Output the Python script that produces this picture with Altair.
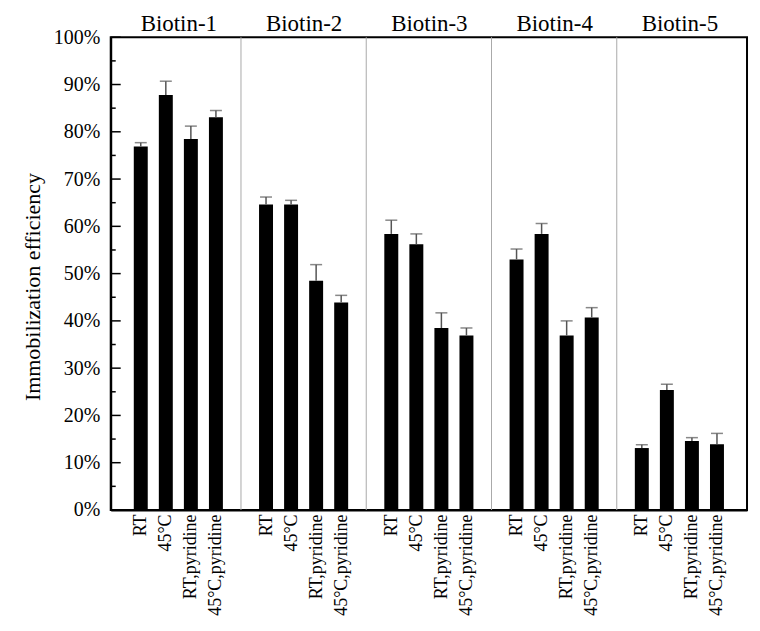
import json
import altair as alt
import pandas as pd

# ---- data ----
groups = ["Biotin-1", "Biotin-2", "Biotin-3", "Biotin-4", "Biotin-5"]
conditions = ["RT", "45°C", "RT,pyridine", "45°C,pyridine"]
# mean immobilization efficiency (%) per group, per condition
means = [
    [76.9, 87.8, 78.5, 83.1],
    [64.6, 64.6, 48.5, 43.9],
    [58.4, 56.2, 38.5, 36.9],
    [53.0, 58.4, 36.9, 40.7],
    [13.1, 25.4, 14.6, 13.9],
]
# upper error bar length (%)
errors = [
    [0.8, 2.9, 2.7, 1.4],
    [1.6, 0.9, 3.4, 1.5],
    [2.9, 2.2, 3.2, 1.6],
    [2.2, 2.2, 3.1, 2.1],
    [0.7, 1.2, 0.7, 2.3],
]
major_ticks = [0, 10, 20, 30, 40, 50, 60, 70, 80, 90, 100]
minor_ticks = [5, 15, 25, 35, 45, 55, 65, 75, 85, 95]

FONT = "'Liberation Serif', 'Times New Roman', serif"
slot = len(conditions) + 1  # slots per group (incl. gap)

rows = []
for g, name in enumerate(groups):
    for i, cond in enumerate(conditions):
        rows.append({
            "group": name,
            "condition": cond,
            "pos": g * slot + i + 1,
            "value": means[g][i] / 100,
            "upper": (means[g][i] + errors[g][i]) / 100,
        })
df = pd.DataFrame(rows)

centers = [g * slot + slot / 2 for g in range(len(groups))]
grp_df = pd.DataFrame({"group": groups, "center": centers})
sep_df = pd.DataFrame({"sep": [g * slot for g in range(1, len(groups))]})
major_df = pd.DataFrame({"t": [v / 100 for v in major_ticks]})
minor_df = pd.DataFrame({"t": [v / 100 for v in minor_ticks]})

W, H = 638, 474
x_scale = alt.Scale(domain=[0, len(groups) * slot], nice=False, zero=False)
y_scale = alt.Scale(domain=[0, 1], nice=False)

label_list = json.dumps([""] + conditions, ensure_ascii=False)
label_expr = f"{label_list}[datum.value % {slot}]"
x_values = [int(p) for p in df["pos"]]

group_list = json.dumps(groups, ensure_ascii=False)
group_expr = f"{group_list}[floor(datum.value / {slot})]"

x_axis = alt.Axis(
    values=x_values,
    labelExpr=label_expr,
    labelAngle=-90,
    labelFont=FONT,
    labelFontSize=18,
    labelColor="black",
    labelPadding=4,
    ticks=False,
    tickSize=0,
    grid=False,
    domainColor="black",
    domainWidth=2,
    title=None,
    labelOverlap=False,
)
top_axis = alt.Axis(
    orient="top",
    values=centers,
    labelExpr=group_expr,
    labelFont=FONT,
    labelFontSize=23,
    labelColor="black",
    labelBaseline="alphabetic",
    labelPadding=6.5,
    ticks=False,
    tickSize=0,
    grid=False,
    domain=False,
    title=None,
    labelOverlap=False,
)
y_axis = alt.Axis(
    values=[v / 100 for v in major_ticks],
    format=".0%",
    labelFont=FONT,
    labelFontSize=20,
    labelColor="black",
    labelPadding=11,
    ticks=False,
    tickSize=0,
    grid=False,
    domainColor="black",
    domainWidth=2,
    title="Immobilization efficiency",
    titleFont=FONT,
    titleFontSize=22,
    titleFontWeight="normal",
    titleColor="black",
    titleAngle=-90,
    titleBaseline="alphabetic",
    titleAlign="center",
    titleX=-71,
    titleY=250,
)

seps = alt.Chart(sep_df).mark_rule(color="#aaaaaa", strokeWidth=1).encode(
    x=alt.X("sep:Q", scale=x_scale, axis=None),
    y=alt.value(0),
    y2=alt.value(H),
)

bars = alt.Chart(df).mark_bar(size=14, color="black").encode(
    x=alt.X("pos:Q", scale=x_scale, axis=x_axis),
    y=alt.Y("value:Q", scale=y_scale, axis=y_axis),
)

err = alt.Chart(df).mark_rule(color="#555555", strokeWidth=1.5).encode(
    x=alt.X("pos:Q", scale=x_scale, axis=None),
    y=alt.Y("value:Q", scale=y_scale, axis=y_axis),
    y2="upper:Q",
)

caps = alt.Chart(df).mark_tick(
    orient="horizontal", size=12, thickness=1.5, color="#555555"
).encode(
    x=alt.X("pos:Q", scale=x_scale, axis=None),
    y=alt.Y("upper:Q", scale=y_scale, axis=y_axis),
)

maj = alt.Chart(major_df).mark_rule(color="black", strokeWidth=1.5).encode(
    y=alt.Y("t:Q", scale=y_scale, axis=y_axis),
    x=alt.value(0),
    x2=alt.value(10),
)
mino = alt.Chart(minor_df).mark_rule(color="black", strokeWidth=1.5).encode(
    y=alt.Y("t:Q", scale=y_scale, axis=y_axis),
    x=alt.value(0),
    x2=alt.value(5),
)

# group titles drawn as the labels of a top axis (invisible point marks)
titles = alt.Chart(grp_df).mark_point(opacity=0).encode(
    x=alt.X("center:Q", scale=x_scale, axis=top_axis),
    y=alt.value(0),
)

chart = alt.layer(seps, bars, err, caps, maj, mino, titles).resolve_axis(
    x="independent"
).properties(
    width=W,
    height=H,
    autosize=alt.AutoSizeParams(type="none"),
    padding={"left": 103, "top": 28.5, "right": 5, "bottom": 110},
    background="white",
).configure(
    font=FONT
).configure_view(
    stroke="black", strokeWidth=2
)

chart.save("out.html", embed_options={"renderer": "svg", "actions": False})
